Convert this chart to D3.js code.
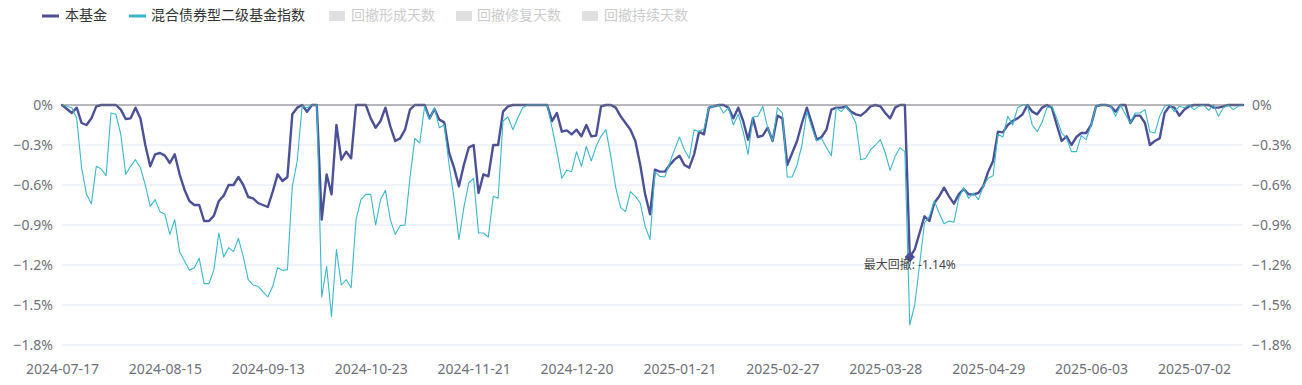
<!DOCTYPE html>
<html>
<head>
<meta charset="utf-8">
<script src="https://cdn.jsdelivr.net/npm/d3@7/dist/d3.min.js"></script>
<style>
  html, body { margin: 0; padding: 0; background: #fff; }
  svg { display: block; font-family: "Noto Sans", "Noto Sans CJK SC", sans-serif; }
</style>
</head>
<body>
<svg id="chart" width="1302" height="385"></svg>
<script>
// ---- trading days (categories), by month ----
const tradingDays = [
  ["2024-07", [17,18,19,22,23,24,25,26,29,30,31]],
  ["2024-08", [1,2,5,6,7,8,9,12,13,14,15,16,19,20,21,22,23,26,27,28,29,30]],
  ["2024-09", [2,3,4,5,6,9,10,11,12,13,18,19,20,23,24,25,26,27,30]],
  ["2024-10", [8,9,10,11,14,15,16,17,18,21,22,23,24,25,28,29,30,31]],
  ["2024-11", [1,4,5,6,7,8,11,12,13,14,15,18,19,20,21,22,25,26,27,28,29]],
  ["2024-12", [2,3,4,5,6,9,10,11,12,13,16,17,18,19,20,23,24,25,26,27,30,31]],
  ["2025-01", [2,3,6,7,8,9,10,13,14,15,16,17,20,21,22,23,24,27]],
  ["2025-02", [5,6,7,10,11,12,13,14,17,18,19,20,21,24,25,26,27,28]],
  ["2025-03", [3,4,5,6,7,10,11,12,13,14,17,18,19,20,21,24,25,26,27,28,31]],
  ["2025-04", [1,2,3,7,8,9,10,11,14,15,16,17,18,21,22,23,24,25,28,29,30]],
  ["2025-05", [6,7,8,9,12,13,14,15,16,19,20,21,22,23,26,27,28,29,30]],
  ["2025-06", [3,4,5,6,9,10,11,12,13,16,17,18,19,20,23,24,25,26,27,30]],
  ["2025-07", [1,2,3,4,7,8,9,10,11,14,15,16]]
];
const categories = tradingDays.flatMap(([m, ds]) => ds.map(d => m + "-" + String(d).padStart(2, "0")));

// ---- tick labels shown on the x axis ----
const xTickLabels = ["2024-07-17","2024-08-15","2024-09-13","2024-10-23","2024-11-21","2024-12-20",
                     "2025-01-21","2025-02-27","2025-03-28","2025-04-29","2025-06-03","2025-07-02"];
const yTickValues = [0, -0.3, -0.6, -0.9, -1.2, -1.5, -1.8];

// ---- series: drawdown (%) ----
const fundName = "本基金";
const fundValues = [
  0,-0.03,-0.06,-0.02,-0.135,-0.15,-0.10,-0.01,0,0,
  0,0,-0.035,-0.105,-0.10,-0.02,-0.10,-0.30,-0.46,-0.37,
  -0.36,-0.38,-0.435,-0.37,-0.52,-0.635,-0.72,-0.75,-0.75,-0.87,
  -0.87,-0.83,-0.72,-0.68,-0.60,-0.60,-0.54,-0.60,-0.69,-0.70,
  -0.735,-0.75,-0.765,-0.65,-0.52,-0.57,-0.54,-0.07,-0.02,0,
  -0.05,0,0,-0.86,-0.52,-0.67,-0.15,-0.41,-0.35,-0.40,
  0,0,0,-0.10,-0.17,-0.12,-0.02,-0.16,-0.27,-0.25,
  -0.185,-0.035,0,0,0,-0.10,-0.03,-0.11,-0.13,-0.36,
  -0.47,-0.61,-0.45,-0.32,-0.30,-0.66,-0.52,-0.535,-0.30,-0.30,
  -0.05,-0.01,0,0,0,0,0,0,0,0,
  -0.12,-0.06,-0.20,-0.19,-0.22,-0.185,-0.235,-0.15,-0.235,-0.23,
  -0.01,0,0,-0.02,-0.085,-0.135,-0.185,-0.27,-0.45,-0.67,
  -0.82,-0.485,-0.50,-0.50,-0.45,-0.41,-0.38,-0.45,-0.47,-0.37,
  -0.20,-0.22,-0.02,-0.01,0,0,-0.02,-0.10,-0.02,-0.12,
  -0.26,-0.10,-0.24,-0.23,-0.17,-0.27,-0.08,-0.10,-0.45,-0.36,
  -0.27,-0.135,-0.02,-0.135,-0.26,-0.24,-0.185,-0.035,-0.02,-0.02,
  -0.01,-0.05,-0.07,-0.08,-0.05,-0.01,0,-0.01,-0.06,-0.10,
  -0.02,0,0,-1.14,-1.085,-0.96,-0.835,-0.87,-0.735,-0.685,
  -0.62,-0.685,-0.74,-0.67,-0.63,-0.67,-0.67,-0.66,-0.61,-0.50,
  -0.42,-0.20,-0.205,-0.15,-0.12,-0.10,-0.07,0,-0.05,-0.07,
  -0.02,0,-0.02,-0.15,-0.27,-0.235,-0.30,-0.24,-0.21,-0.21,
  -0.15,-0.01,0,0,-0.01,-0.05,0,0,-0.135,-0.08,
  -0.08,-0.135,-0.30,-0.27,-0.25,-0.06,-0.01,-0.02,-0.08,-0.035,
  -0.01,0,0,0,0,-0.02,-0.02,-0.01,0,0,
  0,0
];
const indexName = "混合债券型二级基金指数";
const indexValues = [
  0,-0.01,-0.02,-0.10,-0.47,-0.67,-0.74,-0.46,-0.48,-0.53,
  -0.06,-0.07,-0.22,-0.52,-0.46,-0.41,-0.47,-0.60,-0.76,-0.71,
  -0.80,-0.82,-0.97,-0.86,-1.10,-1.17,-1.24,-1.22,-1.15,-1.34,
  -1.34,-1.235,-0.96,-1.14,-1.07,-1.10,-1.00,-1.14,-1.31,-1.35,
  -1.36,-1.40,-1.44,-1.36,-1.22,-1.24,-1.235,-0.61,-0.42,-0.01,
  -0.02,0,0,-1.44,-1.21,-1.585,-1.085,-1.35,-1.31,-1.37,
  -0.86,-0.71,-0.67,-0.67,-0.90,-0.71,-0.64,-0.86,-0.97,-0.905,
  -0.90,-0.55,-0.25,-0.285,-0.01,-0.11,-0.02,-0.17,-0.15,-0.45,
  -0.70,-1.01,-0.77,-0.585,-0.55,-0.96,-0.96,-0.99,-0.685,-0.70,
  -0.12,-0.09,-0.185,-0.10,-0.02,0,0,0,0,0,
  -0.17,-0.35,-0.55,-0.49,-0.50,-0.35,-0.46,-0.31,-0.42,-0.31,
  -0.235,-0.185,-0.385,-0.62,-0.77,-0.80,-0.65,-0.685,-0.735,-0.91,
  -1.01,-0.50,-0.535,-0.54,-0.435,-0.335,-0.24,-0.335,-0.40,-0.185,
  -0.20,-0.18,-0.02,-0.01,0,-0.06,-0.02,-0.15,-0.07,-0.20,
  -0.37,-0.09,-0.085,-0.01,-0.17,-0.27,-0.02,-0.06,-0.54,-0.54,
  -0.45,-0.30,-0.05,-0.17,-0.27,-0.25,-0.32,-0.38,-0.02,-0.05,
  -0.01,-0.06,-0.135,-0.41,-0.40,-0.335,-0.30,-0.26,-0.36,-0.49,
  -0.385,-0.32,-0.35,-1.65,-1.50,-1.20,-0.885,-0.835,-0.72,-0.81,
  -0.89,-0.87,-0.88,-0.70,-0.62,-0.70,-0.66,-0.71,-0.61,-0.55,
  -0.53,-0.22,-0.24,-0.085,-0.15,-0.02,0,0,-0.15,-0.20,
  -0.13,-0.02,-0.01,-0.10,-0.21,-0.25,-0.35,-0.35,-0.23,-0.26,
  -0.15,-0.01,0,0,-0.01,-0.085,0,-0.07,-0.135,-0.06,
  -0.06,-0.035,-0.20,-0.21,-0.085,-0.01,0,-0.05,-0.01,-0.02,
  0,-0.035,-0.01,0,-0.04,0,-0.085,-0.02,0,-0.035,
  -0.01,0
];
const disabledLegend = ["回撤形成天数", "回撤修复天数", "回撤持续天数"];
const maxDrawdownLabel = "最大回撤";

// ---- layout ----
const W = 1302, H = 385;
const plot = { left: 62, right: 1243, top: 105, bottom: 345 };
const colors = { fund: "#4b5097", index: "#3bb8cd", axisText: "#6e7079", grid: "#e0e6f1", axisLine: "#6e7079" };

const svg = d3.select("#chart");

const x = d3.scalePoint().domain(d3.range(categories.length)).range([plot.left, plot.right]);
const y = d3.scaleLinear().domain([-1.8, 0]).range([plot.bottom, plot.top]);
const fmtY = d => d === 0 ? "0%" : d3.format(".1f")(d) + "%";

// grid lines
svg.append("g").selectAll("line").data(yTickValues.filter(v => v !== 0)).join("line")
  .attr("x1", plot.left).attr("x2", plot.right)
  .attr("y1", d => y(d)).attr("y2", d => y(d))
  .attr("stroke", colors.grid).attr("stroke-width", 1);

// left axis
const gl = svg.append("g").attr("transform", `translate(${plot.left},0)`)
  .call(d3.axisLeft(y).tickValues(yTickValues).tickFormat(fmtY).tickSize(0).tickPadding(9));
gl.select(".domain").remove();
gl.selectAll("text").attr("fill", colors.axisText).style("font-size", "14px").style("font-family", "'Noto Sans', sans-serif");

// right axis
const gr = svg.append("g").attr("transform", `translate(${plot.right},0)`)
  .call(d3.axisRight(y).tickValues(yTickValues).tickFormat(fmtY).tickSize(0).tickPadding(9));
gr.select(".domain").remove();
gr.selectAll("text").attr("fill", colors.axisText).style("font-size", "14px").style("font-family", "'Noto Sans', sans-serif");

// bottom axis (labels only)
const tickIdx = xTickLabels.map(l => categories.indexOf(l));
const gb = svg.append("g").attr("transform", `translate(0,${plot.bottom})`)
  .call(d3.axisBottom(x).tickValues(tickIdx).tickFormat(i => categories[i]).tickSize(0).tickPadding(19));
gb.select(".domain").remove();
gb.selectAll("text").attr("fill", colors.axisText).style("font-size", "14px").style("font-family", "'Noto Sans', sans-serif");

// lines
const line = d3.line().x((d, i) => x(i)).y(d => y(d));
svg.append("path").datum(fundValues).attr("d", line)
  .attr("fill", "none").attr("stroke", colors.fund).attr("stroke-width", 2.4)
  .attr("stroke-linejoin", "round").attr("stroke-linecap", "round");
svg.append("path").datum(indexValues).attr("d", line)
  .attr("fill", "none").attr("stroke", colors.index).attr("stroke-width", 1.1)
  .attr("stroke-linejoin", "round");

// zero axis line
svg.append("line").attr("x1", plot.left).attr("x2", plot.right)
  .attr("y1", y(0)).attr("y2", y(0)).attr("stroke", colors.axisLine).attr("stroke-width", 1);

// max drawdown marker
const minVal = d3.min(fundValues);
const minIdx = fundValues.indexOf(minVal);
const mx = x(minIdx), my = y(minVal);
svg.append("path")
  .attr("d", d3.symbol().type(d3.symbolDiamond2).size(70)())
  .attr("transform", `translate(${mx},${my})`)
  .attr("fill", colors.fund);
svg.append("text").attr("x", mx).attr("y", my + 9).attr("text-anchor", "middle")
  .attr("dominant-baseline", "middle")
  .attr("fill", "#464646").style("font-size", "12px")
  .text(`${maxDrawdownLabel}: ${minVal.toFixed(2)}%`);

// legend
const legendY = 16;
const lg = svg.append("g");
const legendItems = [
  { name: fundName, color: colors.fund, type: "line", x: 42, tx: 65, on: true },
  { name: indexName, color: colors.index, type: "line", x: 129, tx: 151, on: true },
  { name: disabledLegend[0], color: "#e0e0e0", type: "rect", x: 329, tx: 351, on: false },
  { name: disabledLegend[1], color: "#e0e0e0", type: "rect", x: 456, tx: 477, on: false },
  { name: disabledLegend[2], color: "#e0e0e0", type: "rect", x: 582, tx: 604, on: false }
];
legendItems.forEach(it => {
  if (it.type === "line") {
    lg.append("line").attr("x1", it.x).attr("x2", it.x + 17).attr("y1", legendY).attr("y2", legendY)
      .attr("stroke", it.color).attr("stroke-width", 3);
  } else {
    lg.append("rect").attr("x", it.x).attr("y", legendY - 5).attr("width", 16).attr("height", 10)
      .attr("fill", it.color).attr("rx", 1);
  }
  lg.append("text").attr("x", it.tx).attr("y", legendY).attr("dominant-baseline", "middle")
    .attr("fill", it.on ? "#333" : "#cccccc").style("font-size", "14px")
    .style("font-family", "'Noto Sans CJK SC', 'Noto Sans', sans-serif")
    .text(it.name);
});
</script>
</body>
</html>
